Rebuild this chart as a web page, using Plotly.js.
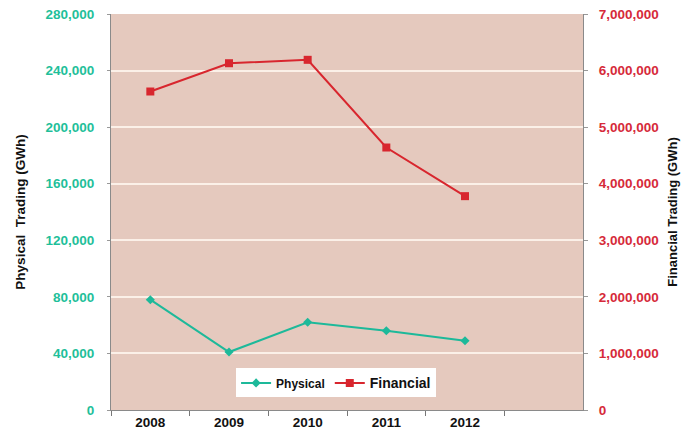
<!DOCTYPE html>
<html>
<head>
<meta charset="utf-8">
<script src="https://cdn.plot.ly/plotly-3.0.1.min.js"></script>
<style>html,body{margin:0;padding:0;background:#fff;}#chart{width:691px;height:438px;}</style>
</head>
<body>
<div id="chart"></div>
<script>
var years = ['2008', '2009', '2010', '2011', '2012'];
var physical = [78000, 41000, 62000, 56000, 49000];
var financial = [5630000, 6130000, 6190000, 4640000, 3780000];
var leftTicks = [0, 40000, 80000, 120000, 160000, 200000, 240000, 280000];
var rightTicks = [0, 1000000, 2000000, 3000000, 4000000, 5000000, 6000000, 7000000];

function fmt(v) { return v.toLocaleString('en-US'); }

var traces = [
  {
    x: years, y: physical, name: 'Physical', type: 'scatter', mode: 'lines+markers',
    line: {color: '#1db99a', width: 2},
    marker: {symbol: 'diamond', size: 7, color: '#1db99a'},
    yaxis: 'y'
  },
  {
    x: years, y: financial, name: '<span style="font-size:14px">Financial</span>', type: 'scatter', mode: 'lines+markers',
    line: {color: '#d8262e', width: 2},
    marker: {symbol: 'square', size: 8, color: '#d8262e'},
    yaxis: 'y2'
  }
];

var layout = {
  width: 691, height: 438,
  margin: {l: 111, r: 108, t: 14, b: 28},
  paper_bgcolor: '#ffffff',
  plot_bgcolor: '#e5c9be',
  font: {family: 'Liberation Sans, Arial, sans-serif', size: 12, color: '#111'},
  showlegend: true,
  legend: {
    x: 0.265, y: 0.105, xanchor: 'left', yanchor: 'top',
    orientation: 'h', bgcolor: '#ffffff',
    font: {size: 12, color: '#111', family: 'Liberation Sans, Arial, sans-serif', weight: 'bold'},
    itemwidth: 30, tracegroupgap: 0
  },
  xaxis: {
    type: 'category', range: [-0.5, 5.5],
    tickson: 'boundaries', ticks: 'outside', ticklen: 5, tickcolor: '#777',
    showline: true, linecolor: '#8a8a8a', linewidth: 1,
    showgrid: false, zeroline: false,
    tickfont: {size: 13.5, color: '#111', weight: 'bold'}
  },
  yaxis: {
    range: [0, 280000], tickvals: leftTicks, ticktext: leftTicks.map(fmt),
    showline: true, linecolor: '#8a8a8a', linewidth: 1,
    ticks: 'outside', ticklen: 3, tickcolor: '#999',
    ticklabelstandoff: 10,
    showgrid: true, gridcolor: '#fbf0e8', gridwidth: 2,
    zeroline: false,
    tickfont: {size: 13.5, color: '#1fbf9a', weight: 'bold'},
    title: {text: 'Physical  Trading (GWh)', font: {size: 13.5, color: '#111', weight: 'bold'}, standoff: 16}
  },
  yaxis2: {
    range: [0, 7000000], tickvals: rightTicks, ticktext: rightTicks.map(fmt),
    overlaying: 'y', side: 'right',
    showline: true, linecolor: '#8a8a8a', linewidth: 1,
    ticks: 'outside', ticklen: 4, tickcolor: '#999',
    ticklabelstandoff: 8,
    showgrid: false, zeroline: false,
    tickfont: {size: 13.5, color: '#d62a3a', weight: 'bold'},
    title: {text: 'Financial Trading (GWh)', font: {size: 13, color: '#111', weight: 'bold'}, standoff: 10}
  }
};

Plotly.newPlot('chart', traces, layout, {displayModeBar: false, staticPlot: true});
</script>
</body>
</html>
